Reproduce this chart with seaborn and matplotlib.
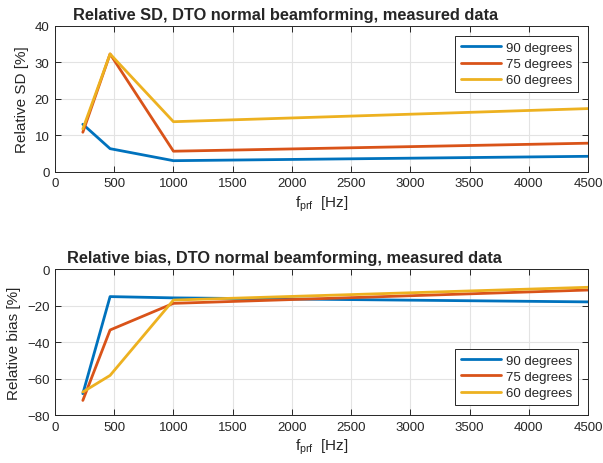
import matplotlib
matplotlib.use("Agg")
import matplotlib.pyplot as plt
import numpy as np
import pandas as pd
import seaborn as sns

# Pulse repetition frequencies [Hz]
f_prf = [235, 465, 1000, 4500]
angles = ["90 degrees", "75 degrees", "60 degrees"]

# Relative standard deviation [%]
sd_90 = [13.0, 6.3, 3.0, 4.2]
sd_75 = [10.8, 32.3, 5.6, 7.8]
sd_60 = [11.7, 32.3, 13.7, 17.3]

# Relative bias [%]
bias_90 = [-68.3, -15.1, -15.8, -18.0]
bias_75 = [-72.0, -33.4, -18.8, -11.5]
bias_60 = [-67.4, -58.3, -17.0, -10.0]

colors = ["#0072BD", "#D95319", "#EDB120"]


def long_table(series):
    rows = []
    for name, vals in zip(angles, series):
        for f, v in zip(f_prf, vals):
            rows.append({"f": f, "value": v, "angle": name})
    return pd.DataFrame(rows)


sd_df = long_table([sd_90, sd_75, sd_60])
bias_df = long_table([bias_90, bias_75, bias_60])

sns.set_style("whitegrid")
plt.rcParams["font.family"] = ["Liberation Sans", "DejaVu Sans"]
plt.rcParams["mathtext.default"] = "regular"

fig = plt.figure(figsize=(6.03, 4.64), dpi=100)
ax1 = fig.add_axes([0.0912, 0.628, 0.884, 0.314])
ax2 = fig.add_axes([0.0912, 0.1034, 0.884, 0.3146])


def style(ax, df, ylim, yticks, title, title_x, ylabel, legend_loc):
    sns.lineplot(data=df, x="f", y="value", hue="angle", palette=colors,
                 linewidth=2, ax=ax, sort=False, estimator=None)
    ax.set_xlim(0, 4500)
    ax.set_ylim(*ylim)
    ax.set_xticks(np.arange(0, 4501, 500))
    ax.set_yticks(yticks)
    ax.grid(True, color="#e3e3e3", linewidth=0.8)
    for s in ax.spines.values():
        s.set_color("#262626")
        s.set_linewidth(0.7)
        s.set_visible(True)
    ax.tick_params(direction="in", length=4, width=0.7, colors="#262626",
                   labelsize=9.5, top=True, right=True, bottom=True, left=True,
                   labeltop=False, labelright=False, pad=4)
    ax.set_title(title, fontsize=11.8, fontweight="bold", loc="left",
                 x=title_x, pad=5)
    ax.set_xlabel(r"f$_{prf}$  [Hz]", fontsize=11, color="#262626", labelpad=3)
    ax.set_ylabel(ylabel, fontsize=11, color="#262626", labelpad=4)
    leg = ax.legend(loc=legend_loc, fontsize=9.5, frameon=True, fancybox=False,
                    edgecolor="#262626", framealpha=1, borderaxespad=0.75,
                    handlelength=3.0, handletextpad=0.4, labelspacing=0.3,
                    borderpad=0.45, title=None)
    leg.get_frame().set_linewidth(0.7)


style(ax1, sd_df, (0, 40), [0, 10, 20, 30, 40],
      "Relative SD, DTO normal beamforming, measured data", 0.034,
      "Relative SD [%]", "upper right")
style(ax2, bias_df, (-80, 0), [-80, -60, -40, -20, 0],
      "Relative bias, DTO normal beamforming, measured data", 0.0225,
      "Relative bias [%]", "lower right")

fig.savefig("out.png", dpi=100)
